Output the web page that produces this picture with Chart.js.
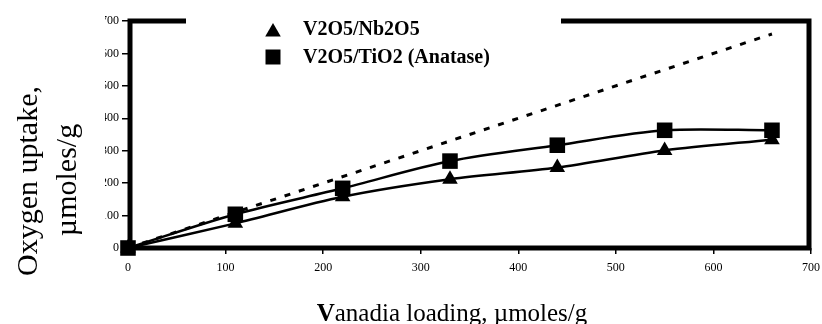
<!DOCTYPE html>
<html>
<head>
<meta charset="utf-8">
<script src="https://cdn.jsdelivr.net/npm/chart.js@4"></script>
<style>
    html, body { margin: 0; padding: 0; background: #fff; }
</style>
</head>
<body>
<canvas id="uptakeChart" width="822" height="324"></canvas>
<script>
// vanadia loading (umoles/g) for both supports
const loadings = [0, 110, 220, 330, 440, 550, 660];
const nbUptake = [0, 76, 158, 212, 248, 301, 334];
const tiUptake = [0, 104, 184, 268, 317, 363, 363];
// 1:1 reference line
const diagonalX = [0, 660];
const diagonalY = [0, 660];
const xTicks = [0, 100, 200, 300, 400, 500, 600, 700];
const yTicks = [0, 100, 200, 300, 400, 500, 600, 700];

const serif = '"Liberation Serif", "Times New Roman", serif';

const toPoints = (xs, ys) => xs.map((x, i) => ({ x: x, y: ys[i] }));

function drawMarker(ctx, style, x, y, r) {
    ctx.beginPath();
    if (style === 'triangle') {
        ctx.moveTo(x, y - r);
        ctx.lineTo(x + r * Math.sin(2 * Math.PI / 3), y + r / 2);
        ctx.lineTo(x - r * Math.sin(2 * Math.PI / 3), y + r / 2);
        ctx.closePath();
    } else {
        const h = r * Math.SQRT1_2;
        ctx.rect(x - h, y - h, 2 * h, 2 * h);
    }
    ctx.fill();
}

const framePlugin = {
    id: 'frame',
    beforeDatasetsDraw(chart) {
        const { ctx, chartArea: a } = chart;
        ctx.save();
        ctx.strokeStyle = '#000';
        ctx.lineWidth = 5;
        ctx.lineCap = 'square';
        ctx.strokeRect(a.left + 2, a.top, a.right - a.left - 4, a.bottom - a.top);
        // legend background breaks the top edge
        ctx.fillStyle = '#fff';
        ctx.fillRect(186, 0, 375, 76);
        ctx.restore();
    },
    afterDraw(chart) {
        const { ctx } = chart;
        ctx.save();

        // legend
        const entries = chart.data.datasets.filter(d => d.label);
        const rows = [32, 57];
        entries.forEach((d, i) => {
            ctx.fillStyle = '#000';
            drawMarker(ctx, d.pointStyle, 273, rows[i], d.pointStyle === 'triangle' ? 9 : 10.6);
            ctx.font = 'bold 20px ' + serif;
            ctx.textBaseline = 'alphabetic';
            ctx.textAlign = 'left';
            ctx.fillText(d.label, 303, i === 0 ? 35 : 63);
        });

        // y tick labels are partly hidden behind the title area
        ctx.fillStyle = '#fff';
        ctx.fillRect(0, 0, 105, 240);

        // y axis title
        ctx.fillStyle = '#000';
        ctx.font = '30px ' + serif;
        ctx.textAlign = 'center';
        ctx.textBaseline = 'alphabetic';
        ctx.translate(37, 181);
        ctx.rotate(-Math.PI / 2);
        ctx.fillText('Oxygen uptake,', 0, 0);
        ctx.setTransform(1, 0, 0, 1, 0, 0);
        ctx.translate(76, 180);
        ctx.rotate(-Math.PI / 2);
        ctx.fillText('\u00b5moles/g', 0, 0);
        ctx.setTransform(1, 0, 0, 1, 0, 0);

        // x axis title, first letter bold
        const first = 'V';
        const rest = 'anadia loading, \u00b5moles/g';
        ctx.textAlign = 'left';
        ctx.font = 'bold 25px ' + serif;
        const w1 = ctx.measureText(first).width;
        ctx.font = '25px ' + serif;
        const w2 = ctx.measureText(rest).width;
        const start = 452 - (w1 + w2) / 2;
        ctx.font = 'bold 25px ' + serif;
        ctx.fillText(first, start, 321);
        ctx.font = '25px ' + serif;
        ctx.fillText(rest, start + w1, 321);

        ctx.restore();
    }
};

const tickStyle = {
    color: '#000',
    font: { family: serif, size: 12 }
};

new Chart(document.getElementById('uptakeChart'), {
    type: 'line',
    data: {
        datasets: [
            {
                label: 'V2O5/Nb2O5',
                data: toPoints(loadings, nbUptake),
                borderColor: '#000',
                backgroundColor: '#000',
                borderWidth: 2.5,
                tension: 0.3,
                pointStyle: 'triangle',
                pointRadius: 9,
                pointBorderWidth: 0,
                clip: false
            },
            {
                label: 'V2O5/TiO2 (Anatase)',
                data: toPoints(loadings, tiUptake),
                borderColor: '#000',
                backgroundColor: '#000',
                borderWidth: 2.5,
                tension: 0.3,
                pointStyle: 'rect',
                pointRadius: 11,
                pointBorderWidth: 0,
                clip: false
            },
            {
                label: '',
                data: toPoints(diagonalX, diagonalY),
                borderColor: '#000',
                borderWidth: 3,
                borderDash: [6, 9],
                pointRadius: 0,
                tension: 0,
                clip: false
            }
        ]
    },
    options: {
        responsive: false,
        animation: false,
        layout: { padding: { left: 0, right: 6, top: 21, bottom: 0 } },
        plugins: {
            legend: { display: false },
            tooltip: { enabled: false }
        },
        scales: {
            x: {
                type: 'linear',
                min: 0,
                max: 700,
                afterBuildTicks: scale => { scale.ticks = xTicks.map(v => ({ value: v })); },
                ticks: Object.assign({ padding: 7, maxRotation: 0 }, tickStyle),
                grid: { drawOnChartArea: false, drawTicks: true, tickLength: 6, color: '#000', lineWidth: 1.5 },
                border: { display: false },
                afterFit: scale => {
                    scale.height = 76;
                    scale.paddingLeft = 0;
                    scale.paddingRight = 0;
                }
            },
            y: {
                type: 'linear',
                min: 0,
                max: 700,
                afterBuildTicks: scale => { scale.ticks = yTicks.map(v => ({ value: v })); },
                ticks: Object.assign({ padding: 3 }, tickStyle),
                grid: { drawOnChartArea: false, drawTicks: true, tickLength: 6, color: '#000', lineWidth: 1.5 },
                border: { display: false },
                afterFit: scale => {
                    scale.width = 128;
                    scale.paddingTop = 0;
                    scale.paddingBottom = 0;
                }
            }
        }
    },
    plugins: [framePlugin]
});
</script>
</body>
</html>
